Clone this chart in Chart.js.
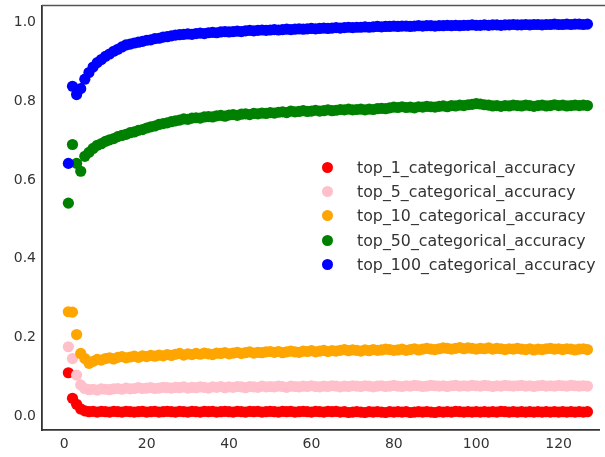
<!DOCTYPE html>
<html>
<head>
<meta charset="utf-8">
<script src="https://cdn.jsdelivr.net/npm/chart.js@4.4.1/dist/chart.umd.min.js"></script>
<style>
    body { margin: 0; background: #fff; }
    #wrap { position: relative; width: 605px; height: 457px; }
    #legend { position: absolute; left: 320px; top: 155px; font-family: 'DejaVu Sans', sans-serif; font-size: 15.8px; color: #333; }
    .row { display: flex; align-items: center; height: 24.4px; }
    .dot { width: 11px; height: 11px; border-radius: 50%; margin-left: 2px; margin-right: 24px; }
</style>
</head>
<body>
<div id="wrap">
    <canvas id="chart" width="605" height="457"></canvas>
    <div id="legend"></div>
</div>
<script>
const epochs = [1, 2, 3, 4, 5, 6, 7, 8, 9, 10, 11, 12, 13, 14, 15, 16, 17, 18, 19, 20,
    21, 22, 23, 24, 25, 26, 27, 28, 29, 30, 31, 32, 33, 34, 35, 36, 37, 38, 39, 40,
    41, 42, 43, 44, 45, 46, 47, 48, 49, 50, 51, 52, 53, 54, 55, 56, 57, 58, 59, 60,
    61, 62, 63, 64, 65, 66, 67, 68, 69, 70, 71, 72, 73, 74, 75, 76, 77, 78, 79, 80,
    81, 82, 83, 84, 85, 86, 87, 88, 89, 90, 91, 92, 93, 94, 95, 96, 97, 98, 99, 100,
    101, 102, 103, 104, 105, 106, 107, 108, 109, 110, 111, 112, 113, 114, 115, 116, 117, 118, 119, 120,
    121, 122, 123, 124, 125, 126, 127];

const top1 = [0.110, 0.045, 0.030, 0.018, 0.013, 0.011, 0.012, 0.010, 0.012, 0.011,
    0.010, 0.012, 0.011, 0.010, 0.012, 0.011, 0.010, 0.011, 0.012, 0.010,
    0.011, 0.012, 0.010, 0.011, 0.012, 0.011, 0.010, 0.012, 0.011, 0.010,
    0.012, 0.011, 0.010, 0.012, 0.011, 0.012, 0.010, 0.011, 0.012, 0.011,
    0.010, 0.012, 0.011, 0.010, 0.012, 0.011, 0.012, 0.010, 0.011, 0.012,
    0.011, 0.010, 0.012, 0.011, 0.012, 0.010, 0.011, 0.012, 0.011, 0.010,
    0.012, 0.011, 0.010, 0.012, 0.011, 0.012, 0.010, 0.011, 0.009, 0.010,
    0.011, 0.010, 0.009, 0.011, 0.010, 0.011, 0.010, 0.009, 0.011, 0.010,
    0.011, 0.010, 0.011, 0.009, 0.010, 0.011, 0.010, 0.011, 0.010, 0.009,
    0.011, 0.010, 0.011, 0.010, 0.012, 0.011, 0.010, 0.011, 0.010, 0.011,
    0.010, 0.011, 0.010, 0.011, 0.010, 0.012, 0.011, 0.010, 0.011, 0.010,
    0.011, 0.010, 0.011, 0.010, 0.011, 0.010, 0.011, 0.010, 0.011, 0.010,
    0.011, 0.010, 0.011, 0.010, 0.011, 0.010, 0.011];

const top5 = [0.176, 0.146, 0.104, 0.079, 0.070, 0.067, 0.068, 0.066, 0.069, 0.068,
    0.067, 0.069, 0.070, 0.068, 0.071, 0.069, 0.070, 0.072, 0.070, 0.071,
    0.072, 0.070, 0.071, 0.073, 0.072, 0.071, 0.073, 0.072, 0.074, 0.071,
    0.073, 0.072, 0.074, 0.073, 0.071, 0.074, 0.073, 0.075, 0.072, 0.074,
    0.073, 0.075, 0.074, 0.072, 0.075, 0.074, 0.073, 0.076, 0.074, 0.075,
    0.074, 0.076, 0.075, 0.073, 0.076, 0.075, 0.074, 0.076, 0.075, 0.077,
    0.075, 0.074, 0.076, 0.075, 0.077, 0.076, 0.074, 0.076, 0.075, 0.077,
    0.076, 0.075, 0.077, 0.076, 0.074, 0.076, 0.077, 0.075, 0.076, 0.078,
    0.076, 0.075, 0.077, 0.076, 0.078, 0.077, 0.075, 0.076, 0.078, 0.077,
    0.076, 0.077, 0.075, 0.077, 0.078, 0.076, 0.077, 0.076, 0.078, 0.077,
    0.076, 0.078, 0.077, 0.075, 0.077, 0.076, 0.078, 0.077, 0.076, 0.077,
    0.078, 0.076, 0.077, 0.075, 0.077, 0.078, 0.076, 0.077, 0.076, 0.078,
    0.077, 0.076, 0.078, 0.077, 0.076, 0.077, 0.076];

const top10 = [0.265, 0.264, 0.207, 0.159, 0.146, 0.134, 0.139, 0.144, 0.142, 0.146,
    0.148, 0.145, 0.149, 0.151, 0.148, 0.150, 0.152, 0.149, 0.153, 0.151,
    0.154, 0.152, 0.155, 0.153, 0.156, 0.154, 0.157, 0.159, 0.155, 0.158,
    0.156, 0.159, 0.157, 0.160, 0.158, 0.156, 0.160, 0.159, 0.161, 0.158,
    0.160, 0.162, 0.159, 0.161, 0.163, 0.160, 0.162, 0.161, 0.163, 0.164,
    0.162, 0.164, 0.161, 0.163, 0.165, 0.163, 0.162, 0.165, 0.164, 0.166,
    0.163, 0.165, 0.167, 0.164, 0.166, 0.165, 0.167, 0.169, 0.166, 0.168,
    0.167, 0.165, 0.168, 0.166, 0.169, 0.167, 0.168, 0.170, 0.169, 0.167,
    0.168, 0.170, 0.167, 0.169, 0.171, 0.168, 0.170, 0.172, 0.170, 0.169,
    0.171, 0.173, 0.172, 0.170, 0.172, 0.174, 0.171, 0.173, 0.172, 0.170,
    0.172, 0.171, 0.173, 0.170, 0.172, 0.171, 0.169, 0.171, 0.170, 0.172,
    0.170, 0.169, 0.171, 0.168, 0.170, 0.169, 0.171, 0.172, 0.170, 0.171,
    0.169, 0.171, 0.170, 0.168, 0.170, 0.171, 0.169];

const top50 = [0.541, 0.690, 0.642, 0.622, 0.660, 0.670, 0.680, 0.688, 0.692, 0.698,
    0.702, 0.705, 0.710, 0.713, 0.716, 0.720, 0.722, 0.726, 0.728, 0.732,
    0.735, 0.737, 0.741, 0.743, 0.745, 0.748, 0.750, 0.752, 0.755, 0.754,
    0.757, 0.758, 0.757, 0.760, 0.761, 0.760, 0.763, 0.764, 0.762, 0.765,
    0.766, 0.764, 0.767, 0.768, 0.766, 0.769, 0.768, 0.770, 0.769, 0.771,
    0.770, 0.772, 0.773, 0.771, 0.775, 0.773, 0.774, 0.776, 0.774, 0.775,
    0.777, 0.775, 0.776, 0.778, 0.776, 0.777, 0.779, 0.778, 0.780, 0.778,
    0.779, 0.780, 0.778, 0.780, 0.779, 0.781, 0.782, 0.781, 0.783, 0.785,
    0.784, 0.786, 0.784, 0.785, 0.783, 0.786, 0.785, 0.787, 0.786, 0.785,
    0.787, 0.788, 0.786, 0.789, 0.788, 0.790, 0.789, 0.791, 0.792, 0.794,
    0.793, 0.791, 0.790, 0.788, 0.789, 0.787, 0.789, 0.788, 0.790, 0.789,
    0.788, 0.790, 0.789, 0.787, 0.789, 0.790, 0.788, 0.789, 0.791, 0.789,
    0.790, 0.788, 0.789, 0.790, 0.789, 0.790, 0.789];

const top100 = [0.642, 0.838, 0.817, 0.832, 0.856, 0.873, 0.887, 0.898, 0.906, 0.914,
    0.920, 0.927, 0.932, 0.938, 0.943, 0.945, 0.948, 0.950, 0.952, 0.955,
    0.956, 0.959, 0.960, 0.963, 0.964, 0.966, 0.968, 0.969, 0.970, 0.971,
    0.970, 0.972, 0.973, 0.972, 0.974, 0.975, 0.974, 0.976, 0.977, 0.976,
    0.977, 0.978, 0.977, 0.979, 0.980, 0.979, 0.980, 0.981, 0.980, 0.981,
    0.982, 0.981, 0.982, 0.983, 0.982, 0.983, 0.984, 0.983, 0.984, 0.985,
    0.984, 0.985, 0.986, 0.985, 0.986, 0.987, 0.986, 0.987, 0.988, 0.987,
    0.988, 0.988, 0.989, 0.988, 0.989, 0.990, 0.989, 0.990, 0.990, 0.991,
    0.990, 0.991, 0.991, 0.990, 0.991, 0.992, 0.991, 0.992, 0.992, 0.991,
    0.992, 0.992, 0.993, 0.992, 0.993, 0.992, 0.993, 0.993, 0.994, 0.993,
    0.993, 0.994, 0.993, 0.994, 0.994, 0.993, 0.994, 0.994, 0.995, 0.994,
    0.994, 0.995, 0.994, 0.995, 0.995, 0.994, 0.995, 0.995, 0.996, 0.995,
    0.995, 0.996, 0.995, 0.996, 0.996, 0.995, 0.996];

const seriesNames = ['top_1_categorical_accuracy', 'top_5_categorical_accuracy', 'top_10_categorical_accuracy',
    'top_50_categorical_accuracy', 'top_100_categorical_accuracy'];
const seriesValues = [top1, top5, top10, top50, top100];
const seriesColors = ['#ff0000', '#ffc0cb', '#ffa500', '#008000', '#0000ff'];

const xTicks = [0, 20, 40, 60, 80, 100, 120];
const yTicks = [0.0, 0.2, 0.4, 0.6, 0.8, 1.0];

Chart.defaults.font.family = "'DejaVu Sans', sans-serif";

const datasets = seriesValues.map((vals, i) => ({
    label: seriesNames[i],
    data: vals.map((v, j) => ({ x: epochs[j], y: v })),
    backgroundColor: seriesColors[i],
    borderWidth: 0,
    pointRadius: 5.6,
    pointHoverRadius: 5.6,
    order: seriesValues.length - i // later series on top, like matplotlib
}));

// top spine (the right one is cut off in the picture)
const topSpine = {
    id: 'topSpine',
    afterDraw(chart) {
        const { ctx, chartArea } = chart;
        ctx.save();
        ctx.strokeStyle = '#555';
        ctx.lineWidth = 1.5;
        ctx.beginPath();
        ctx.moveTo(chartArea.left, chartArea.top);
        ctx.lineTo(chart.width, chartArea.top);
        ctx.stroke();
        ctx.restore();
    }
};

const ctx = document.getElementById('chart').getContext('2d');

const myChart = new Chart(ctx, {
    type: 'scatter',
    data: { datasets },
    options: {
        responsive: false,
        animation: false,
        devicePixelRatio: 1,
        layout: { padding: { top: 5, right: 0, left: 0, bottom: 0 } },
        plugins: {
            legend: { display: false },
            tooltip: { enabled: false }
        },
        scales: {
            x: {
                type: 'linear',
                min: -5.4,
                max: 129.9,
                afterBuildTicks: s => { s.ticks = xTicks.map(v => ({ value: v })); },
                afterFit: s => {
                    s.height = 27;
                    s.paddingLeft = 0;
                    s.paddingRight = 0;
                },
                grid: { display: false, drawTicks: false },
                border: { color: '#333', width: 1.8 },
                ticks: { color: '#333', font: { size: 14 }, padding: 6, maxRotation: 0 }
            },
            y: {
                min: -0.0355,
                max: 1.043,
                afterBuildTicks: s => { s.ticks = yTicks.map(v => ({ value: v })); },
                afterFit: s => {
                    s.width = 42;
                    s.paddingTop = 0;
                    s.paddingBottom = 0;
                },
                grid: { display: false, drawTicks: false },
                border: { color: '#333', width: 1.8 },
                ticks: { color: '#333', font: { size: 14 }, padding: 6, callback: v => v.toFixed(1) }
            }
        }
    },
    plugins: [topSpine]
});

// legend as html, built from the datasets
const legend = document.querySelector('#legend');
for (let ds of datasets) {
    const row = document.createElement('div');
    row.className = 'row';
    const dot = document.createElement('span');
    dot.className = 'dot';
    dot.style.background = ds.backgroundColor;
    const label = document.createElement('span');
    label.textContent = ds.label;
    row.append(dot, label);
    legend.append(row);
}
</script>
</body>
</html>
